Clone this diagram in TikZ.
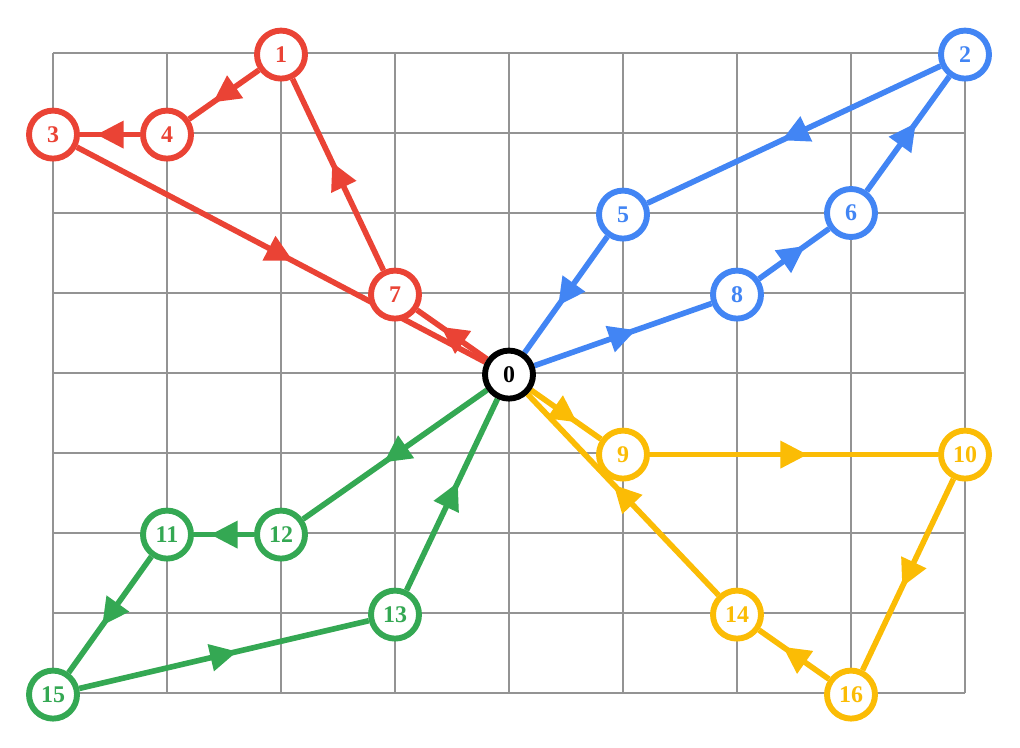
\documentclass[tikz,border=0pt]{standalone}
\usepackage{fontspec}
\setmainfont{Liberation Serif}
\usetikzlibrary{arrows.meta,decorations.markings,backgrounds}
\definecolor{gred}{HTML}{EA4335}
\definecolor{gblue}{HTML}{4285F4}
\definecolor{gyellow}{HTML}{FBBC05}
\definecolor{ggreen}{HTML}{34A853}
\tikzstyle{nd}=[circle,draw,fill=white,line width=4.2pt,minimum size=1.2cm,inner sep=0pt,font=\fontsize{17}{17}\selectfont\bfseries]
\tikzset{edge/.style={color=#1,line width=4pt,decoration={markings,mark=at position 0.5 with {\arrow[xshift=0.34cm]{Triangle[length=0.68cm,width=0.66cm]}}},postaction={decorate}}}

\begin{document}
\begin{tikzpicture}[x=2.85cm,y=-2cm]
	\useasboundingbox (-0.465,-0.6625) rectangle (8.4825,8.6875);
	% nodes
	\node[nd,draw=black,text=black] (n0) at (4,4.02) {0};
	\node[nd,draw=gred,text=gred] (n1) at (2,0.02) {1};
	\node[nd,draw=gred,text=gred] (n3) at (0,1.02) {3};
	\node[nd,draw=gred,text=gred] (n4) at (1,1.02) {4};
	\node[nd,draw=gred,text=gred] (n7) at (3,3.02) {7};
	\node[nd,draw=gblue,text=gblue] (n2) at (8,0.02) {2};
	\node[nd,draw=gblue,text=gblue] (n5) at (5,2.02) {5};
	\node[nd,draw=gblue,text=gblue] (n6) at (7,2) {6};
	\node[nd,draw=gblue,text=gblue] (n8) at (6,3.02) {8};
	\node[nd,draw=gyellow,text=gyellow] (n9) at (5,5.02) {9};
	\node[nd,draw=gyellow,text=gyellow] (n10) at (8,5.02) {10};
	\node[nd,draw=gyellow,text=gyellow] (n14) at (6,7.02) {14};
	\node[nd,draw=gyellow,text=gyellow] (n16) at (7,8.02) {16};
	\node[nd,draw=ggreen,text=ggreen] (n11) at (1,6.02) {11};
	\node[nd,draw=ggreen,text=ggreen] (n12) at (2,6.02) {12};
	\node[nd,draw=ggreen,text=ggreen] (n13) at (3,7.02) {13};
	\node[nd,draw=ggreen,text=ggreen] (n15) at (0,8.02) {15};
	\begin{scope}[on background layer]
		% grid
		\foreach \i in {0,...,8}
			\draw[gray!85,line width=1.1pt] (\i,0) -- (\i,8);
		\foreach \j in {0,...,8}
			\draw[gray!85,line width=1.1pt] (0,\j) -- (8,\j);
		% red
		\draw[edge=gred] (n0) -- (n7);
		\draw[edge=gred] (n7) -- (n1);
		\draw[edge=gred] (n1) -- (n4);
		\draw[edge=gred] (n4) -- (n3);
		\draw[edge=gred] (n3) -- (n0);
		% blue
		\draw[edge=gblue] (n0) -- (n8);
		\draw[edge=gblue] (n8) -- (n6);
		\draw[edge=gblue] (n6) -- (n2);
		\draw[edge=gblue] (n2) -- (n5);
		\draw[edge=gblue] (n5) -- (n0);
		% yellow
		\draw[edge=gyellow] (n0) -- (n9);
		\draw[edge=gyellow] (n9) -- (n10);
		\draw[edge=gyellow] (n10) -- (n16);
		\draw[edge=gyellow] (n16) -- (n14);
		\draw[edge=gyellow] (n14) -- (n0);
		% green
		\draw[edge=ggreen] (n0) -- (n12);
		\draw[edge=ggreen] (n12) -- (n11);
		\draw[edge=ggreen] (n11) -- (n15);
		\draw[edge=ggreen] (n15) -- (n13);
		\draw[edge=ggreen] (n13) -- (n0);
	\end{scope}
\end{tikzpicture}
\end{document}
